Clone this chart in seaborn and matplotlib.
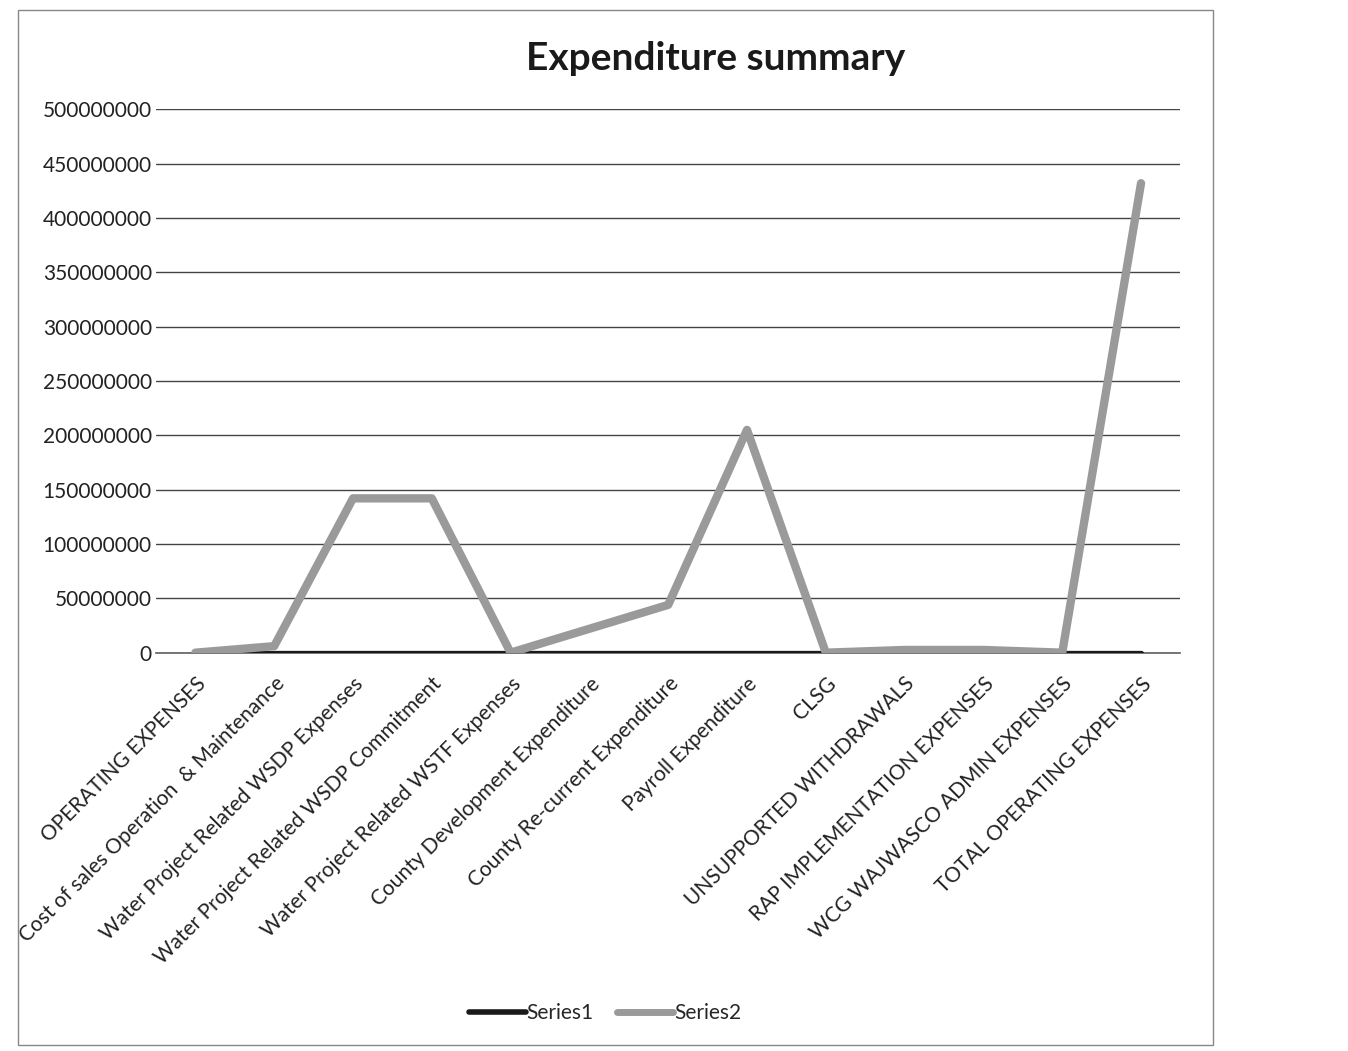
import matplotlib
matplotlib.use("Agg")
import matplotlib.pyplot as plt
import seaborn as sns
import pandas as pd
from matplotlib.patches import Rectangle
from matplotlib.lines import Line2D

categories = [
    "OPERATING EXPENSES",
    "Cost of sales Operation  & Maintenance",
    "Water Project Related WSDP Expenses",
    "Water Project Related WSDP Commitment",
    "Water Project Related WSTF Expenses",
    "County Development Expenditure",
    "County Re-current Expenditure",
    "Payroll Expenditure",
    "CLSG",
    "UNSUPPORTED WITHDRAWALS",
    "RAP IMPLEMENTATION EXPENSES",
    "WCG WAJWASCO ADMIN EXPENSES",
    "TOTAL OPERATING EXPENSES",
]
series1 = [0, 0, 0, 0, 0, 0, 0, 0, 0, 0, 0, 0, 0]
series2 = [0, 6000000, 142000000, 142000000, 0, 22000000, 44000000,
           205000000, 0, 2500000, 2500000, 0, 432000000]
series_names = ["Series1", "Series2"]
yticks = [0, 50000000, 100000000, 150000000, 200000000, 250000000,
          300000000, 350000000, 400000000, 450000000, 500000000]

df = pd.DataFrame({
    "category": categories * 2,
    "value": series1 + series2,
    "series": [series_names[0]] * len(categories) + [series_names[1]] * len(categories),
})

sns.set_theme(style="white")
plt.rcParams["font.family"] = ["Lato", "DejaVu Sans"]

fig = plt.figure(figsize=(13.48, 10.51), dpi=100)
ax = fig.add_axes([0.1157, 0.379, 0.760, 0.517])

sns.lineplot(data=df, x="category", y="value", hue="series", sort=False,
             palette={"Series1": "#1a1a1a", "Series2": "#9a9a9a"},
             ax=ax, legend=False)
for line, lw in zip(ax.get_lines(), [3.8, 6.0]):
    line.set_linewidth(lw)
    line.set_solid_capstyle("round")
ax.get_lines()[0].set_zorder(3)
ax.get_lines()[1].set_zorder(4)

ax.set_xlim(-0.5, len(categories) - 0.5)
ax.set_ylim(0, 500000000)
ax.set_yticks(yticks)
ax.set_yticklabels([str(v) for v in yticks], fontsize=15, color="#222222")
ax.yaxis.grid(True, color="#444444", linewidth=1.0)
ax.set_axisbelow(True)
ax.set_xlabel("")
ax.set_ylabel("")
for s in ["top", "right", "left"]:
    ax.spines[s].set_visible(False)
ax.spines["bottom"].set_color("#666666")
ax.tick_params(axis="y", length=0, pad=3)
ax.tick_params(axis="x", length=0, pad=15)
ax.set_xticks(range(len(categories)))
ax.set_xticklabels(categories, rotation=45, ha="right", rotation_mode="anchor",
                   fontsize=15, color="#222222")

fig.text(0.531, 0.944, "Expenditure summary", ha="center", va="center",
         fontsize=28, fontweight="bold", color="#1a1a1a")

handles = [Line2D([0], [0], color="#1a1a1a", lw=4, solid_capstyle="round"),
           Line2D([0], [0], color="#9a9a9a", lw=5, solid_capstyle="round")]
fig.legend(handles, series_names, loc="center", bbox_to_anchor=(0.449, 0.036),
           ncol=2, frameon=False, fontsize=15, handlelength=2.7,
           handletextpad=0.05, columnspacing=1.1)

fig.patches.append(Rectangle((18 / 1348, 1 - 1045 / 1051), (1213 - 18) / 1348,
                             (1045 - 10) / 1051, transform=fig.transFigure,
                             fill=False, edgecolor="#888888", linewidth=1.0))

fig.savefig("out.png", dpi=100, facecolor="white")
